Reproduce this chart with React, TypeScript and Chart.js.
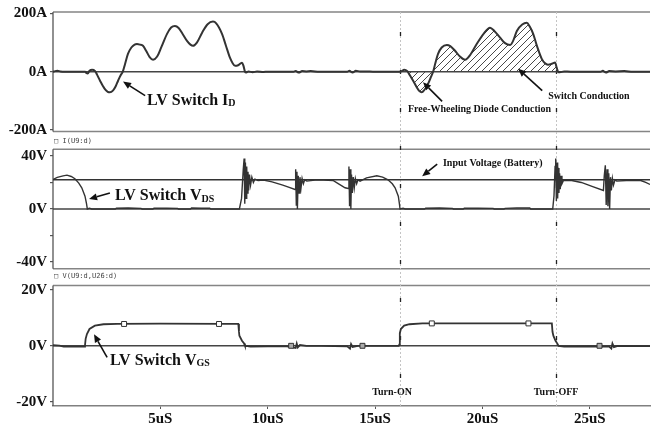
import React, { useEffect, useRef } from 'react';
import { Chart, registerables } from 'chart.js';

Chart.register(...registerables);

// ---------- data ----------
const xTicks = [5, 10, 15, 20, 25];
const xMax = 27.8;

const currentTicks = [-200, 0, 200];
const vdsTicks = [-40, -20, 0, 20, 40];
const vdsLabels = [-40, 0, 40];
const vgsTicks = [-20, 0, 20];

// LV switch drain current [time uS, amps]
const currentPoints: number[][] = [
  [0, 0], [0.1, 2], [0.2, 3], [0.35, 1], [0.5, 0], [1.5, 0], [1.55, -4], [1.62, -6], [1.7, 3], [1.82, 7],
  [1.95, 3], [2.05, -10], [2.19, -31], [2.4, -58], [2.55, -69], [2.65, -71], [2.8, -64], [2.92, -50],
  [3.03, -31], [3.15, -12], [3.25, 0], [3.35, 25], [3.49, 61], [3.65, 83], [3.8, 93], [3.91, 95],
  [4.05, 93], [4.19, 89], [4.35, 70], [4.5, 50], [4.66, 41], [4.85, 52], [5.05, 85], [5.31, 130],
  [5.5, 152], [5.68, 157], [5.85, 150], [6.05, 128], [6.24, 106], [6.4, 93], [6.52, 89], [6.7, 100],
  [6.95, 135], [7.2, 163], [7.45, 172], [7.6, 166], [7.87, 130], [8.05, 90], [8.24, 48], [8.36, 30],
  [8.48, 20], [8.62, 22], [8.8, 31], [8.87, 20], [8.94, 0], [9.0, -3], [9.1, 1], [9.3, -2], [9.5, 1],
  [9.8, -1], [10, 0], [11.2, 0], [11.3, 2], [11.45, -3], [11.6, 2], [11.8, 1], [12.0, 2], [12.4, 0],
  [13.7, 0], [13.8, 3], [13.95, -3], [14.1, 3], [14.3, 1], [14.6, 1], [14.9, 0], [16.16, 0], [16.24, 2],
  [16.35, 7], [16.5, 2], [16.6, -10], [16.77, -31], [16.95, -55], [17.05, -66], [17.17, -71], [17.3, -62],
  [17.47, -41], [17.6, -18], [17.7, 0], [17.8, 28], [17.93, 61], [18.1, 83], [18.34, 92], [18.5, 88],
  [18.72, 72], [18.95, 52], [19.19, 41], [19.45, 60], [19.73, 95], [20.05, 130], [20.35, 151], [20.55, 140],
  [20.82, 117], [21.05, 98], [21.29, 92], [21.45, 110], [21.6, 140], [21.85, 162], [22.06, 168], [22.2, 155],
  [22.36, 130], [22.55, 85], [22.76, 44], [22.9, 30], [23.05, 24], [23.25, 28], [23.38, 32], [23.45, 15],
  [23.52, 0], [23.6, -2], [23.8, 1], [24.1, 0], [25.5, 0], [25.6, 3], [25.75, -3], [25.9, 2], [26.2, 1],
  [26.6, 2], [27.0, 0], [27.8, 0],
];

// LV switch drain-source voltage [time uS, volts]
const vdsPoints: number[][] = [
  [0, 22.3], [0.2, 23.8], [0.47, 25], [0.65, 25.5], [0.85, 24.5], [1.02, 22.8], [1.2, 19.5], [1.34, 16],
  [1.49, 9.7], [1.56, 4], [1.6, 0], [1.7, 0.6], [1.8, 0], [2.9, 0], [2.95, 0.6], [3.5, 0.7], [4.1, 0.5],
  [4.15, 0], [4.65, 0], [4.7, 0.6], [5.3, 0.6], [5.8, 0.5], [5.85, 0], [6.4, 0], [6.45, 0.7], [6.9, 0.6],
  [7.3, 0.6], [7.35, 0], [8.68, 0], [8.78, 8], [8.86, 30], [8.9, 38], [8.93, 4], [8.96, 35], [8.99, 8],
  [9.02, 32], [9.05, 12], [9.08, 28], [9.11, 14], [9.15, 26], [9.2, 18], [9.26, 24], [9.33, 20],
  [9.4, 22.5], [9.55, 21.5], [9.8, 21.8], [10.2, 20.5], [10.7, 18], [11.0, 16.3], [11.27, 14.7],
  [11.3, 30], [11.33, 3], [11.36, 28], [11.38, 0], [11.42, 25], [11.46, 12], [11.5, 24], [11.55, 16],
  [11.6, 23], [11.66, 19], [11.72, 22], [11.82, 21], [12.2, 21.8], [12.6, 21.8], [13.04, 21.5],
  [13.3, 19], [13.6, 16], [13.75, 15.5], [13.78, 32], [13.81, 2], [13.84, 30], [13.87, 0], [13.9, 26],
  [13.94, 12], [13.98, 24], [14.03, 16], [14.08, 23], [14.14, 19], [14.2, 22], [14.3, 21], [14.6, 23.5],
  [15.08, 25], [15.35, 24], [15.6, 22], [15.8, 19], [15.93, 16], [16.08, 9.7], [16.13, 4], [16.16, 0],
  [16.3, 0.5], [16.4, 0], [17.3, 0], [17.35, 0.6], [18.0, 0.7], [18.6, 0.5], [18.65, 0], [19.1, 0],
  [19.15, 0.6], [19.8, 0.6], [20.5, 0.5], [20.55, 0], [21.0, 0], [21.05, 0.5], [21.6, 0.7], [22.2, 0.8],
  [22.25, 0], [23.27, 0], [23.33, 10], [23.38, 32], [23.41, 38], [23.44, 6], [23.47, 35], [23.5, 8],
  [23.53, 31], [23.56, 12], [23.59, 27], [23.62, 15], [23.66, 25], [23.7, 19], [23.77, 21.5], [24.1, 21.7],
  [24.6, 20], [25.1, 17], [25.63, 14], [25.67, 25], [25.72, 33], [25.76, 3], [25.8, 30], [25.84, 2],
  [25.88, 27], [25.92, 0], [25.96, 24], [26.0, 14], [26.05, 23], [26.1, 18], [26.17, 22], [26.25, 21],
  [26.7, 21.5], [27.37, 21.5], [27.6, 20], [27.8, 18.5],
];

// LV switch gate-source voltage [time uS, volts]
const vgsPoints: number[][] = [
  [0, 0.2], [0.3, 0.1], [0.5, -0.3], [1.0, -0.3], [1.45, -0.3], [1.49, 0.2], [1.52, 2.5], [1.58, 4.2],
  [1.7, 6], [1.95, 7.2], [2.35, 7.7], [3.0, 7.8], [5.0, 7.9], [8.0, 7.8], [8.63, 7.8], [8.66, 5],
  [8.68, 3.6], [8.8, 1.8], [8.9, 0.8], [8.94, 0], [9.2, -0.3], [10.0, -0.2], [10.9, -0.2], [11.3, -0.8],
  [11.35, 0.8], [11.4, -0.6], [11.5, 0.3], [11.8, 0], [12.5, 0], [13.7, -0.2], [13.83, -1], [13.88, 0.6],
  [13.95, -0.4], [14.2, 0], [16.1, 0], [16.13, 0.5], [16.15, 4.5], [16.2, 6], [16.35, 7.2], [16.6, 7.7],
  [17.2, 8.0], [20, 8.0], [23.23, 8.0], [23.26, 5], [23.3, 3.6], [23.4, 1.8], [23.5, 0.6], [23.54, 0],
  [23.8, -0.3], [25.0, -0.2], [25.9, -0.3], [26.0, -1], [26.05, 0.8], [26.12, -0.5], [26.3, 0], [27.8, -0.1],
];

const vgsMarkers: number[][] = [
  [3.31, 7.8], [7.73, 7.8], [11.09, 0], [14.41, 0], [17.64, 8.0], [22.14, 8.0], [25.45, 0],
];

const batteryVoltage = 22;
const turnOnTime = 16.16;
const turnOffTime = 23.41;
const hatchStart = 16.16;
const hatchEnd = 23.52;

// ---------- helpers ----------
const tickFont = { family: '"Liberation Serif", "Times New Roman", serif', size: 15, weight: 'bold' as const };
const serif = '"Liberation Serif", "Times New Roman", serif';

function makeHatch(): CanvasPattern | string {
  const c = document.createElement('canvas');
  c.width = 7;
  c.height = 7;
  const g = c.getContext('2d');
  if (!g) return 'rgba(0,0,0,0.2)';
  g.strokeStyle = '#333';
  g.lineWidth = 0.9;
  g.beginPath();
  g.moveTo(0, 7); g.lineTo(7, 0);
  g.moveTo(-1, 1); g.lineTo(1, -1);
  g.moveTo(6, 8); g.lineTo(8, 6);
  g.stroke();
  return g.createPattern(c, 'repeat') || 'rgba(0,0,0,0.2)';
}

const toXY = (arr: number[][]) => arr.map(([x, y]) => ({ x, y }));

type Note = { text: string; sub?: string; axis: string; t: number; v: number; size: number; align?: CanvasTextAlign; mono?: boolean };
const notes: Note[] = [
  { text: 'LV Switch I', sub: 'D', axis: 'yI', t: 4.38, v: -99, size: 16 },
  { text: 'Free-Wheeling Diode Conduction', axis: 'yI', t: 16.53, v: -130, size: 10 },
  { text: 'Switch Conduction', axis: 'yI', t: 23.06, v: -85, size: 10 },
  { text: 'Input Voltage (Battery)', axis: 'yV', t: 18.16, v: 34.5, size: 10 },
  { text: 'LV Switch V', sub: 'DS', axis: 'yV', t: 2.89, v: 9.75, size: 16 },
  { text: 'LV Switch V', sub: 'GS', axis: 'yG', t: 2.65, v: -5.2, size: 16 },
  { text: 'Turn-ON', axis: 'yG', t: 15.79, v: -16.5, size: 10, align: 'center' },
  { text: 'Turn-OFF', axis: 'yG', t: 23.43, v: -16.5, size: 10, align: 'center' },
  { text: '\u25A1 I(U9:d)', axis: 'yV', t: 0.05, v: 51, size: 7, mono: true },
  { text: '\u25A1 V(U9:d,U26:d)', axis: 'yG', t: 0.05, v: 24.7, size: 7, mono: true },
];

type Arrow = { axis: string; from: number[]; to: number[] };
const arrows: Arrow[] = [
  { axis: 'yI', from: [4.29, -82], to: [3.26, -34] },
  { axis: 'yI', from: [18.12, -102], to: [17.23, -36] },
  { axis: 'yI', from: [22.78, -65], to: [21.66, 10] },
  { axis: 'yV', from: [17.89, 33.75], to: [17.19, 24.75] },
  { axis: 'yV', from: [2.65, 12], to: [1.68, 7.5] },
  { axis: 'yG', from: [2.52, -4.1], to: [1.91, 4.1] },
];

const panels: [string, number][] = [['yI', 205], ['yV', 45], ['yG', 21.5]];

const sketchPlugin = {
  id: 'sketch',
  beforeDatasetsDraw(chart: any) {
    const { ctx, chartArea, scales } = chart;
    ctx.save();
    for (const [id, r] of panels) {
      const s = scales[id];
      const top = s.getPixelForValue(r);
      const bot = s.getPixelForValue(-r);
      ctx.strokeStyle = '#858585';
      ctx.lineWidth = 1.5;
      ctx.beginPath();
      ctx.moveTo(chartArea.left, top); ctx.lineTo(chartArea.right, top);
      if (id !== 'yG') { ctx.moveTo(chartArea.left, bot); ctx.lineTo(chartArea.right, bot); }
      ctx.stroke();
      ctx.strokeStyle = '#555';
      ctx.lineWidth = 1.3;
      ctx.beginPath();
      ctx.moveTo(chartArea.left, top); ctx.lineTo(chartArea.left, bot);
      ctx.stroke();
    }
    for (const t of [turnOnTime, turnOffTime]) {
      const px = Math.round(scales.x.getPixelForValue(t)) + 0.5;
      ctx.strokeStyle = '#c4c4c4';
      ctx.lineWidth = 1;
      ctx.setLineDash([2, 2]);
      ctx.beginPath(); ctx.moveTo(px, chartArea.top); ctx.lineTo(px, chartArea.bottom); ctx.stroke();
      ctx.strokeStyle = '#222';
      ctx.lineWidth = 1.3;
      ctx.setLineDash([4, 34]);
      ctx.beginPath(); ctx.moveTo(px, chartArea.top + 20); ctx.lineTo(px, chartArea.bottom); ctx.stroke();
    }
    ctx.restore();
  },
  afterDatasetsDraw(chart: any) {
    const { ctx, scales } = chart;
    const X = (t: number) => scales.x.getPixelForValue(t);
    ctx.save();
    ctx.fillStyle = '#111';
    for (const n of notes) {
      const x = X(n.t);
      const y = scales[n.axis].getPixelForValue(n.v);
      ctx.font = n.mono ? `${n.size}px "DejaVu Sans Mono", monospace` : `bold ${n.size}px ${serif}`;
      ctx.fillStyle = n.mono ? '#444' : '#111';
      ctx.textAlign = n.align || 'left';
      ctx.textBaseline = 'middle';
      ctx.fillText(n.text, x, y);
      if (n.sub) {
        const w = ctx.measureText(n.text).width;
        ctx.font = `bold ${Math.round(n.size * 0.62)}px ${serif}`;
        ctx.textBaseline = 'alphabetic';
        ctx.fillText(n.sub, x + w, y + n.size * 0.36);
      }
    }
    ctx.strokeStyle = '#111';
    ctx.fillStyle = '#111';
    ctx.lineWidth = 1.6;
    for (const a of arrows) {
      const s = scales[a.axis];
      const x1 = X(a.from[0]), y1 = s.getPixelForValue(a.from[1]);
      const x2 = X(a.to[0]), y2 = s.getPixelForValue(a.to[1]);
      const ang = Math.atan2(y2 - y1, x2 - x1);
      const hl = 8, hw = 3.5;
      const bx = x2 - hl * Math.cos(ang), by = y2 - hl * Math.sin(ang);
      ctx.beginPath(); ctx.moveTo(x1, y1); ctx.lineTo(bx, by); ctx.stroke();
      ctx.beginPath();
      ctx.moveTo(x2, y2);
      ctx.lineTo(bx + hw * Math.sin(ang), by - hw * Math.cos(ang));
      ctx.lineTo(bx - hw * Math.sin(ang), by + hw * Math.cos(ang));
      ctx.closePath();
      ctx.fill();
    }
    ctx.restore();
  },
};

function yAxis(min: number, max: number, ticks: number[], labels: number[], unit: string, weight: number, stackWeight: number) {
  return {
    type: 'linear' as const,
    position: 'left' as const,
    stack: 'panels',
    stackWeight,
    weight,
    min,
    max,
    afterBuildTicks: (s: any) => { s.ticks = ticks.map((value) => ({ value })); },
    afterFit: (s: any) => { s.width = 53; },
    ticks: {
      autoSkip: false,
      padding: 3,
      color: '#111',
      font: tickFont,
      callback: (v: any) => (labels.includes(Number(v)) ? `${v}${unit}` : ''),
    },
    grid: { drawOnChartArea: false, tickLength: 3, color: '#555', lineWidth: 1.2 },
    border: { display: false },
  };
}

export default function App() {
  const ref = useRef<HTMLCanvasElement>(null);
  useEffect(() => {
    const canvas = ref.current;
    if (!canvas) return;
    const hatch = makeHatch();
    const base = { pointRadius: 0, fill: false, borderColor: '#333', tension: 0 };
    const line = (data: number[][]) => toXY([[0, data[0][1]], [xMax, data[0][1]]]);
    const chart = new Chart(canvas, {
      type: 'line',
      data: {
        datasets: [
          {
            label: 'markers', data: toXY(vgsMarkers), yAxisID: 'yG', showLine: false,
            pointStyle: 'rect', pointRadius: 3.5,
            pointBackgroundColor: vgsMarkers.map(([, v]) => (v > 1 ? '#fff' : '#aaa')),
            pointBorderColor: '#333', pointBorderWidth: 1,
          },
          { ...base, label: 'ID', data: toXY(currentPoints), yAxisID: 'yI', borderWidth: 2, cubicInterpolationMode: 'monotone' },
          { ...base, label: 'VDS', data: toXY(vdsPoints), yAxisID: 'yV', borderWidth: 1.4 },
          { ...base, label: 'VGS', data: toXY(vgsPoints), yAxisID: 'yG', borderWidth: 1.8 },
          { ...base, label: 'zeroI', data: line([[0, 0]]), yAxisID: 'yI', borderWidth: 1.6, borderColor: '#444' },
          { ...base, label: 'zeroV', data: line([[0, 0]]), yAxisID: 'yV', borderWidth: 1.6, borderColor: '#444' },
          { ...base, label: 'battery', data: line([[0, batteryVoltage]]), yAxisID: 'yV', borderWidth: 1.6, borderColor: '#333' },
          { ...base, label: 'zeroG', data: line([[0, 0]]), yAxisID: 'yG', borderWidth: 1.6, borderColor: '#444' },
          {
            ...base, label: 'hatch', yAxisID: 'yI', borderWidth: 0, cubicInterpolationMode: 'monotone',
            data: toXY(currentPoints.filter(([t]) => t >= hatchStart && t <= hatchEnd)),
            fill: 'origin', backgroundColor: hatch,
          },
        ],
      } as any,
      options: {
        animation: false,
        responsive: false,
        devicePixelRatio: 1,
        layout: { padding: { left: 0, right: 9, top: 10, bottom: 0 } },
        plugins: { legend: { display: false }, tooltip: { enabled: false } },
        scales: {
          x: {
            type: 'linear', min: 0, max: xMax,
            afterBuildTicks: (s: any) => { s.ticks = xTicks.map((value) => ({ value })); },
            afterFit: (s: any) => { s.height = 22; },
            ticks: { autoSkip: false, maxRotation: 0, padding: 1, color: '#111', font: tickFont, callback: (v: any) => `${v}uS` },
            grid: { drawOnChartArea: false, tickLength: 3, color: '#555' },
            border: { color: '#808080', width: 1.5 },
          },
          yI: yAxis(-205, 205, currentTicks, currentTicks, 'A', 3, 120),
          yV: yAxis(-45, 58.5, vdsTicks, vdsLabels, 'V', 2, 138),
          yG: yAxis(-21.5, 27.54, vgsTicks, vgsTicks, 'V', 1, 138),
        },
      } as any,
      plugins: [sketchPlugin],
    });
    return () => chart.destroy();
  }, []);
  return (
    <div style={{ position: 'fixed', left: 0, top: 0, width: 659, height: 428, background: '#fff' }}>
      <canvas ref={ref} width={659} height={428} style={{ display: 'block' }} />
    </div>
  );
}
